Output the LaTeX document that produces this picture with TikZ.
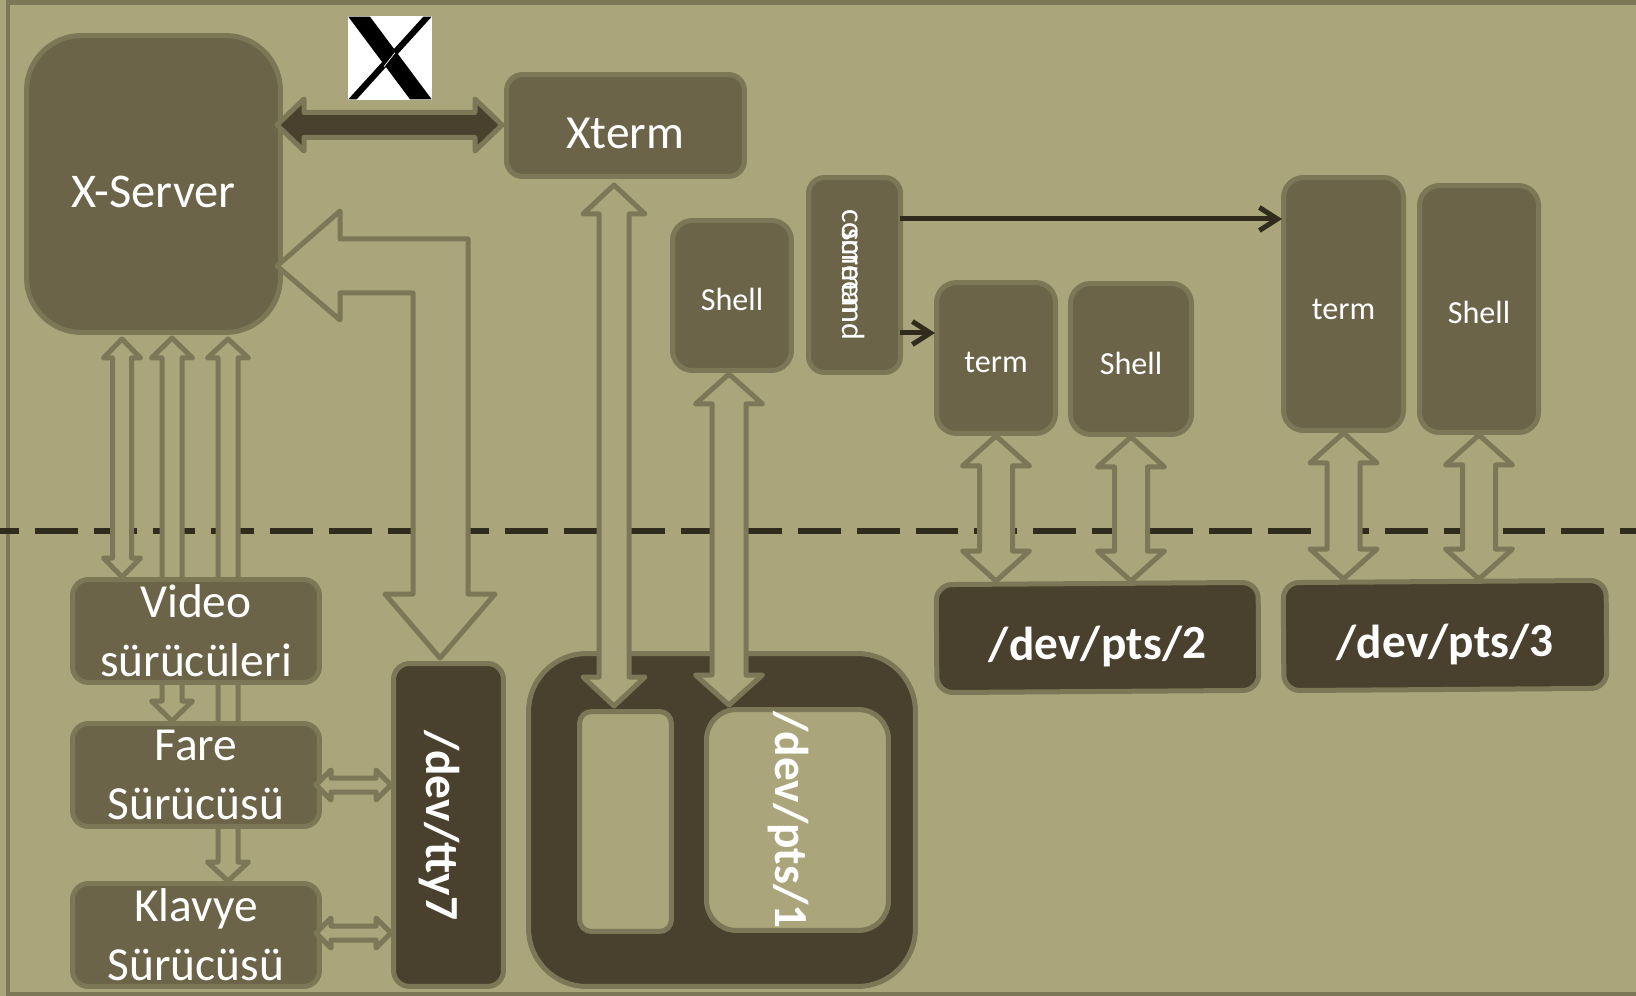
\documentclass[tikz,border=0pt]{standalone}
\usepackage{fontspec}
\setmainfont{Carlito}
\usepackage{xcolor}
\usepackage{tikz}
\usetikzlibrary{arrows.meta,calc,backgrounds}
\definecolor{paper}{HTML}{AAA57A}
\definecolor{edge}{HTML}{7B7757}
\definecolor{boxfill}{HTML}{6B6448}
\definecolor{darkfill}{HTML}{49412E}
\definecolor{ink}{HTML}{2F2C1E}
% hollow arrow with two heads: [style]{from}{to}{half shaft}{half head}{head length}
\newcommand{\biarrow}[6][]{%
  \draw[blockarrow,#1] (#2)
    -- ($(#2)!#6*0.02cm!(#3)!#5*0.02cm!90:(#3)$)
    -- ($(#2)!#6*0.02cm!(#3)!#4*0.02cm!90:(#3)$)
    -- ($(#3)!#6*0.02cm!(#2)!#4*0.02cm!-90:(#2)$)
    -- ($(#3)!#6*0.02cm!(#2)!#5*0.02cm!-90:(#2)$)
    -- (#3)
    -- ($(#3)!#6*0.02cm!(#2)!#5*0.02cm!90:(#2)$)
    -- ($(#3)!#6*0.02cm!(#2)!#4*0.02cm!90:(#2)$)
    -- ($(#2)!#6*0.02cm!(#3)!#4*0.02cm!-90:(#3)$)
    -- ($(#2)!#6*0.02cm!(#3)!#5*0.02cm!-90:(#3)$)
    -- cycle;}

\begin{document}
\begin{tikzpicture}[
    x=0.02cm,y=-0.02cm,
    box/.style={rectangle,draw=edge,fill=boxfill,line width=0.1cm,rounded corners=0.32cm,
                text=white,align=center,inner sep=0pt,font=\fontsize{27}{33.5}\selectfont},
    small/.style={font=\fontsize{18.3}{22}\selectfont},
    darkbox/.style={box,fill=darkfill,font=\fontsize{27}{33.5}\selectfont\bfseries},
    hole/.style={box,fill=paper},
    low/.style={text height=#1},
    blockarrow/.style={draw=edge,fill=paper,line width=0.1cm,line join=round},
    wire/.style={-{Straight Barb[length=0.36cm,width=0.46cm]},draw=ink,line width=0.1cm}
]
\useasboundingbox (0,0) rectangle (1636,996);

\node[box,minimum width=5.08cm,minimum height=5.94cm,rounded corners=1.1cm,low=0.93cm,font=\fontsize{27.6}{33.5}\selectfont] (xserver) at (153.5,184) {X-Server};
\node[box,minimum width=4.76cm,minimum height=2.04cm,low=0.93cm] (xterm) at (625.5,125.5) {Xterm};
\node[box,small,minimum width=2.38cm,minimum height=3cm,rounded corners=0.4cm,low=0.62cm] (shellone) at (732,295.5) {Shell};
\node[box,small,rotate=-90,minimum width=3.9cm,minimum height=1.84cm,low=0.5cm] (command) at (854.5,275) {command};
\node[small,rotate=-90,text=white,inner sep=0pt,low=0.5cm] (screen) at ($(command.center)+(0,-4)$) {screen};
\node[box,small,minimum width=2.38cm,minimum height=3.02cm,rounded corners=0.4cm,low=0.57cm] (termone) at (996,358) {term};
\node[box,small,minimum width=2.42cm,minimum height=3.02cm,rounded corners=0.4cm,low=0.64cm] (shelltwo) at (1131,359) {Shell};
\node[box,small,minimum width=2.4cm,minimum height=5.06cm,rounded corners=0.4cm,low=0.61cm] (termtwo) at (1343.5,304) {term};
\node[box,small,minimum width=2.38cm,minimum height=4.94cm,rounded corners=0.4cm,low=0.6cm] (shellthree) at (1479,309) {Shell};
\node[darkbox,rotate=0.4,minimum width=6.44cm,minimum height=2.16cm,low=1.03cm] (ptstwo) at (1097.5,637.5) {/dev/pts/2};
\node[darkbox,rotate=0.4,minimum width=6.46cm,minimum height=2.16cm,low=1.03cm] (ptsthree) at (1445,635.5) {/dev/pts/3};
\node[box,minimum width=4.94cm,minimum height=2.06cm] (video) at (196,631) {Video\\sürücüleri};
\node[box,minimum width=4.94cm,minimum height=2.06cm] (fare) at (196,775) {Fare\\Sürücüsü};
\node[box,minimum width=4.94cm,minimum height=2.06cm] (klavye) at (196,935) {Klavye\\Sürücüsü};
\node[darkbox,rotate=-90,minimum width=6.46cm,minimum height=2.2cm,low=1.03cm] (ttyseven) at (448.5,825) {/dev/tty7};
\node[darkbox,minimum width=7.74cm,minimum height=6.66cm,rounded corners=1.16cm] (ptsone) at (722,820) {};
\node[hole,minimum width=1.84cm,minimum height=4.4cm,rounded corners=0.24cm] (holeleft) at (625.5,821.5) {};
\node[hole,minimum width=3.64cm,minimum height=4.42cm,rounded corners=0.6cm] (holeright) at (797.5,820) {};
\node[rotate=-90,text=white,inner sep=0pt,font=\fontsize{27}{31.7}\selectfont\bfseries] (ptsonelabel) at (788,820) {/dev/pts/1};

\node[fill=white,minimum size=1.68cm,inner sep=0pt] (xlogo) at (390,58) {};
\fill[black] (348.3,16.7) -- (370,16.7) -- (431.7,99.3) -- (410,99.3) -- cycle;
\fill[black] (423.3,16.7) -- (431.7,16.7) -- (356.7,99.3) -- (348.3,99.3) -- cycle;
\draw[white,line width=0.4pt] (395,52.7) -- (384,66.7);

\coordinate (srvvideo) at ($(xserver.south)+(-31.5,4)$);
\coordinate (srvfare) at ($(xserver.south)+(18.5,3)$);
\coordinate (srvklavye) at ($(xserver.south)+(74.5,4)$);

\begin{scope}[on background layer]
\fill[paper] (0,0) rectangle (1636,996);
\draw[edge,line width=0.1cm] (1636,3) -- (8,3) -- (8,994) -- (1636,994);
\draw[ink,line width=0.12cm,dash pattern=on 0.854cm off 0.32cm,dash phase=0.466cm] (0,531) -- (1636,531);

\biarrow{srvvideo}{srvvideo |- video.north}{9.5}{18.5}{19}
\biarrow{srvfare}{srvfare |- fare.north}{10}{20.5}{20}
\biarrow{srvklavye}{srvklavye |- klavye.north}{10}{20.5}{19}
\biarrow{termone.south}{termone.south |- ptstwo.north}{16.5}{33.5}{30}
\biarrow{shelltwo.south}{shelltwo.south |- ptstwo.north}{16.5}{33.5}{30}
\biarrow{termtwo.south}{termtwo.south |- ptsthree.north}{16.5}{33.5}{30}
\biarrow{shellthree.south}{shellthree.south |- ptsthree.north}{16.5}{33.5}{30}
\end{scope}

\coordinate (srvleft) at (277,125);
\coordinate (xtermin) at (502,125);
\biarrow[fill=darkfill]{srvleft}{xtermin}{12.5}{26}{27}

\coordinate (srvin) at (277,266);
\coordinate (ttyin) at (440,658);
\draw[blockarrow] (srvin) -- ++(63,-55) -- ++(0,28) -- ++(128,0) -- ++(0,355) -- ++(27,0)
    -- (ttyin) -- ++(-55,-64) -- ++(28,0) -- ++(0,-301) -- ++(-73,0) -- ++(0,27) -- cycle;

\coordinate (xtermdown) at (614,185);
\coordinate (holeleftin) at (614,706);
\coordinate (shelldown) at (729,374);
\coordinate (holerightin) at (729,705);
\biarrow{xtermdown}{holeleftin}{15}{31}{29}
\biarrow{shelldown}{holerightin}{17}{33.5}{30}

\coordinate (fareout) at (316,785);
\coordinate (ttyfare) at (391,785);
\coordinate (klavyeout) at (316,933);
\coordinate (ttyklavye) at (391,933);
\biarrow{fareout}{ttyfare}{7}{15}{15}
\biarrow{klavyeout}{ttyklavye}{7}{15}{15}

\coordinate (cmdtop) at (900,219);
\coordinate (termtwoin) at (1282,219);
\coordinate (cmdlow) at (900,333);
\coordinate (termonein) at (935,333);
\draw[wire] (cmdtop) -- (termtwoin);
\draw[wire] (cmdlow) -- (termonein);
\end{tikzpicture}
\end{document}
